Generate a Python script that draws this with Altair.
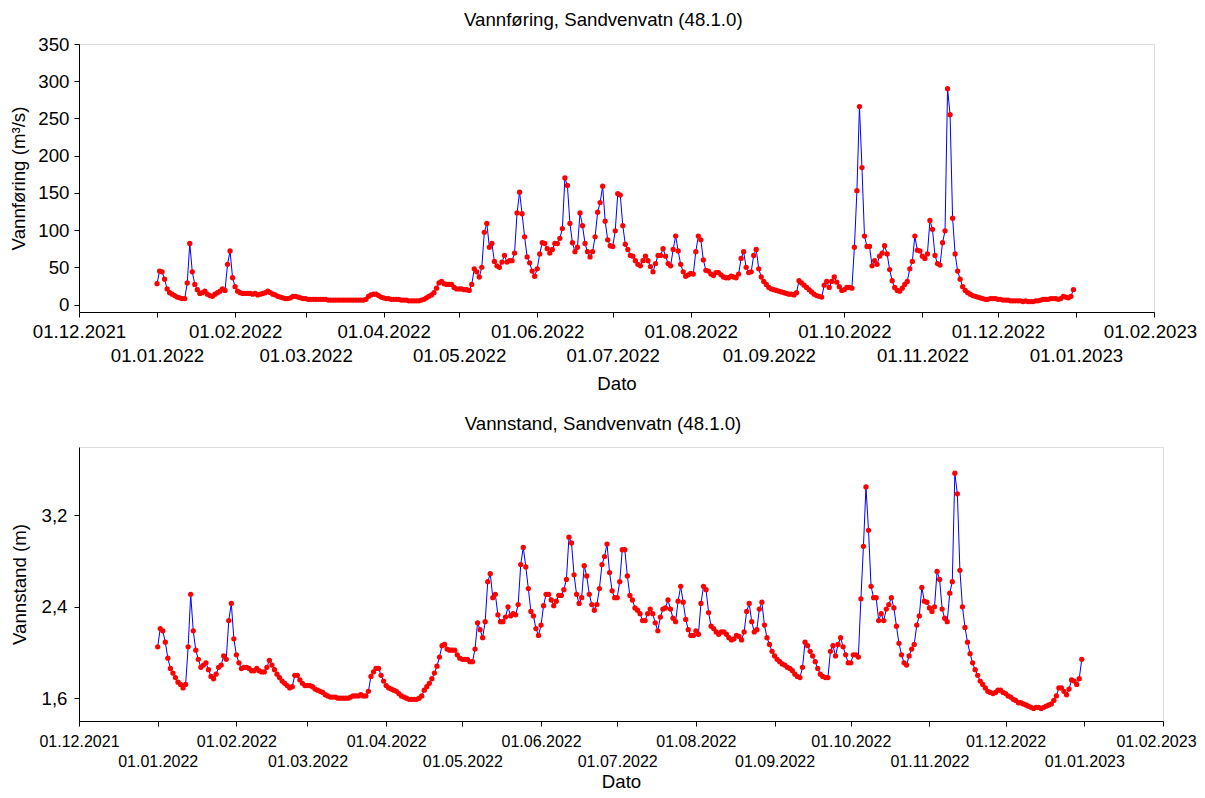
import altair as alt
import pandas as pd

# Daily discharge (m3/s), 2022, per month
q_jan = [28,45,44,34,21,16,14,12,10,9, 8,8,29,82,44,27,20,15,16,18, 14,12,11,14,16,18,21,19,54,72, 36]
q_feb = [24,18,16,15,15,15,15,14,15,13, 14,15,16,18,16,14,13,11,10,9, 8,8,9,11,11,10,9,8]
q_mar = [8,7,7,7,7,7,7,7,7,6, 6,6,6,6,6,6,6,6,6,6, 6,6,6,6,7,11,13,14,14,12, 10]
q_apr = [9,8,8,7,7,7,7,6,6,6, 5,5,5,5,5,6,7,9,11,13, 16,22,29,31,28,27,27,27,23,21]
q_may = [21,21,20,20,19,27,48,44,37,50, 97,109,77,82,58,52,50,57,66,57, 59,59,69,123,151,122,91,64,56,45, 38]
q_jun = [48,68,83,82,75,69,74,82,82,89, 102,170,160,109,83,71,77,123,106,82, 71,64,71,91,124,137,159,112,87,79]
q_jul = [78,99,149,147,106,81,74,66,65,59, 54,52,59,65,59,51,44,55,66,66, 75,65,55,52,74,92,72,54,44,38, 40]
q_aug = [42,41,71,92,87,60,46,45,41,39, 43,43,40,37,36,36,38,37,36,41, 62,71,50,43,44,66,74,48,37,31, 27]
q_sep = [23,21,20,19,18,17,16,15,14,14, 13,16,32,29,26,23,20,17,14,12, 11,10,26,31,23,31,37,30,24,19]
q_oct = [20,23,23,22,77,153,266,184,92,78, 78,52,59,54,65,69,79,68,47,32, 23,19,18,22,27,31,48,58,92,73, 72]
q_nov = [65,62,68,113,101,66,55,53,83,99, 290,255,116,68,45,34,24,19,16,14, 12,11,10,9,8,7,7,8,8,8]
q_dec = [7,7,6,6,6,5,5,5,5,5, 4,5,4,4,4,5,5,6,7,7, 7,8,8,8,7,8,11,10,9,11, 20]

# Daily water level (m), 2022, per month
h_jan = [2.05,2.21,2.19,2.09,1.95,1.86,1.82,1.78,1.74,1.72, 1.69,1.72,2.05,2.51,2.19,2.02,1.94,1.87,1.89,1.91, 1.85,1.79,1.77,1.81,1.87,1.89,1.97,1.94,2.28,2.43, 2.12]
h_feb = [1.98,1.91,1.86,1.87,1.87,1.86,1.84,1.84,1.86,1.84, 1.83,1.83,1.87,1.93,1.89,1.85,1.81,1.78,1.75,1.73, 1.71,1.69,1.70,1.80,1.80,1.76,1.73,1.71]
h_mar = [1.71,1.71,1.70,1.68,1.67,1.66,1.65,1.63,1.62,1.61, 1.61,1.61,1.60,1.60,1.60,1.60,1.60,1.61,1.62,1.62, 1.62,1.63,1.62,1.62,1.66,1.79,1.83,1.86,1.86,1.80, 1.75]
h_apr = [1.71,1.69,1.68,1.67,1.66,1.64,1.62,1.61,1.60,1.59, 1.59,1.59,1.59,1.60,1.62,1.67,1.70,1.73,1.77,1.82, 1.88,1.96,2.06,2.07,2.03,2.02,2.02,2.02,1.98,1.95]
h_may = [1.94,1.94,1.94,1.92,1.92,2.03,2.26,2.20,2.13,2.27, 2.62,2.69,2.48,2.51,2.33,2.27,2.27,2.31,2.40,2.32, 2.34,2.33,2.42,2.77,2.92,2.75,2.56,2.36,2.32,2.21, 2.15]
h_jun = [2.24,2.41,2.51,2.51,2.46,2.41,2.45,2.50,2.50,2.55, 2.64,3.01,2.96,2.68,2.51,2.43,2.48,2.76,2.67,2.51, 2.42,2.37,2.42,2.56,2.77,2.84,2.95,2.70,2.54,2.48]
h_jul = [2.48,2.62,2.90,2.90,2.67,2.50,2.46,2.39,2.37,2.34, 2.28,2.28,2.34,2.38,2.34,2.26,2.19,2.31,2.38,2.39, 2.46,2.38,2.30,2.27,2.45,2.58,2.44,2.29,2.20,2.15, 2.15]
h_aug = [2.19,2.16,2.43,2.58,2.55,2.35,2.23,2.21,2.18,2.16, 2.18,2.18,2.16,2.13,2.11,2.12,2.15,2.14,2.11,2.18, 2.36,2.43,2.27,2.18,2.20,2.38,2.44,2.24,2.13,2.07, 2.01]
h_sep = [1.97,1.94,1.92,1.90,1.89,1.87,1.86,1.84,1.81,1.79, 1.78,1.87,2.09,2.06,2.01,1.97,1.92,1.86,1.81,1.79, 1.78,1.78,2.01,2.06,1.97,2.07,2.13,2.05,1.98,1.91]
h_oct = [1.91,1.98,1.98,1.96,2.47,2.93,3.45,3.07,2.58,2.48, 2.48,2.28,2.34,2.28,2.38,2.42,2.48,2.39,2.23,2.08, 1.98,1.91,1.89,1.97,2.03,2.07,2.24,2.32,2.57,2.45, 2.44]
h_nov = [2.39,2.36,2.40,2.71,2.64,2.38,2.30,2.27,2.52,2.62, 3.57,3.39,2.72,2.40,2.22,2.09,1.99,1.91,1.85,1.80, 1.75,1.72,1.69,1.66,1.65,1.64,1.65,1.67,1.67,1.65]
h_dec = [1.64,1.62,1.61,1.59,1.58,1.56,1.56,1.55,1.54,1.53, 1.52,1.51,1.52,1.52,1.51,1.52,1.53,1.54,1.55,1.58, 1.62,1.69,1.69,1.66,1.63,1.68,1.76,1.75,1.72,1.77, 1.94]

flow = q_jan + q_feb + q_mar + q_apr + q_may + q_jun + q_jul + q_aug + q_sep + q_oct + q_nov + q_dec
stage = h_jan + h_feb + h_mar + h_apr + h_may + h_jun + h_jul + h_aug + h_sep + h_oct + h_nov + h_dec
dates = pd.date_range("2022-01-01", "2022-12-31", freq="D").strftime("%Y-%m-%d").tolist()

tick_months = [(2021, 12)] + [(2022, m) for m in range(1, 13)] + [(2023, 1), (2023, 2)]
flow_ticks = [0, 50, 100, 150, 200, 250, 300, 350]
stage_ticks = [1.6, 2.4, 3.2]

df_q = pd.DataFrame({"Dato": dates, "v": flow})
df_h = pd.DataFrame({"Dato": dates, "v": stage})

FONT = "Liberation Sans"
BIG = 18.67
tick_vals = [alt.DateTime(year=y, month=m, date=1, utc=True) for y, m in tick_months]
x_domain = [tick_vals[0], tick_vals[-1]]
label_expr = ("utcmonth(datum.value) % 2 == 1 ? utcFormat(datum.value, '%d.%m.%Y') : "
              "['', utcFormat(datum.value, '%d.%m.%Y')]")
LAST_TICK_TEST = "datum.value >= 1675000000000"


def panel(df, title, ytitle, ydomain, yvals, ylabel_expr, w, h, xfs, lh, xlpad, xtpad,
          ylpad, ytpad, toff, last_shift):
    x = alt.X("Dato:T",
              scale=alt.Scale(type="utc", domain=x_domain),
              axis=alt.Axis(values=tick_vals, labelExpr=label_expr, title="Dato",
                            labelFontSize=xfs, titleFontSize=BIG, labelLineHeight=lh,
                            labelFont=FONT, titleFont=FONT, labelColor="black",
                            titleColor="black", titleFontWeight="normal",
                            domainColor="black", tickColor="black", tickSize=5,
                            grid=False, labelPadding=xlpad, titlePadding=xtpad,
                            labelOverlap=False, labelFlush=False,
                            labelOffset={"condition": {"test": LAST_TICK_TEST,
                                                       "value": last_shift},
                                         "value": 0}))
    yaxis = dict(values=yvals, title=ytitle, labelFontSize=BIG, titleFontSize=BIG,
                 labelFont=FONT, titleFont=FONT, labelColor="black", titleColor="black",
                 titleFontWeight="normal", domainColor="black", tickColor="black",
                 tickSize=5, grid=False, labelPadding=ylpad, titlePadding=ytpad)
    if ylabel_expr:
        yaxis["labelExpr"] = ylabel_expr
    y = alt.Y("v:Q", scale=alt.Scale(domain=ydomain, nice=False, zero=False),
              axis=alt.Axis(**yaxis))
    base = alt.Chart(df).encode(x=x, y=y)
    line = base.mark_line(color="#0000FF", strokeWidth=1)
    pts = base.mark_circle(color="#FF0000", size=28, opacity=1)
    return alt.layer(line, pts).properties(
        width=w, height=h,
        title=alt.TitleParams(title, fontSize=BIG, font=FONT, fontWeight="normal",
                              color="black", anchor="middle", frame="bounds", offset=toff))


top = panel(df_q, "Vannføring, Sandvenvatn (48.1.0)", "Vannføring (m³/s)",
            [-10, 350], flow_ticks, None, 1075, 268, BIG, 24, 5, 10, 5, 9, 5, -4)
bottom = panel(df_h, "Vannstand, Sandvenvatn (48.1.0)", "Vannstand (m)",
               [1.4, 3.8], stage_ticks, "replace(format(datum.value, '.1f'), '.', ',')",
               1084, 274, 16, 20, 7, 3, 7, 12, 13, -7)

chart = alt.vconcat(top, bottom, spacing=20).properties(
    autosize=alt.AutoSizeParams(type="none"),
    padding={"left": 71, "top": 36, "right": 1118, "bottom": 746}
).configure_view(stroke="black", strokeWidth=1).configure(background="white")

chart.save("out.html", embed_options={"renderer": "svg", "actions": False})
